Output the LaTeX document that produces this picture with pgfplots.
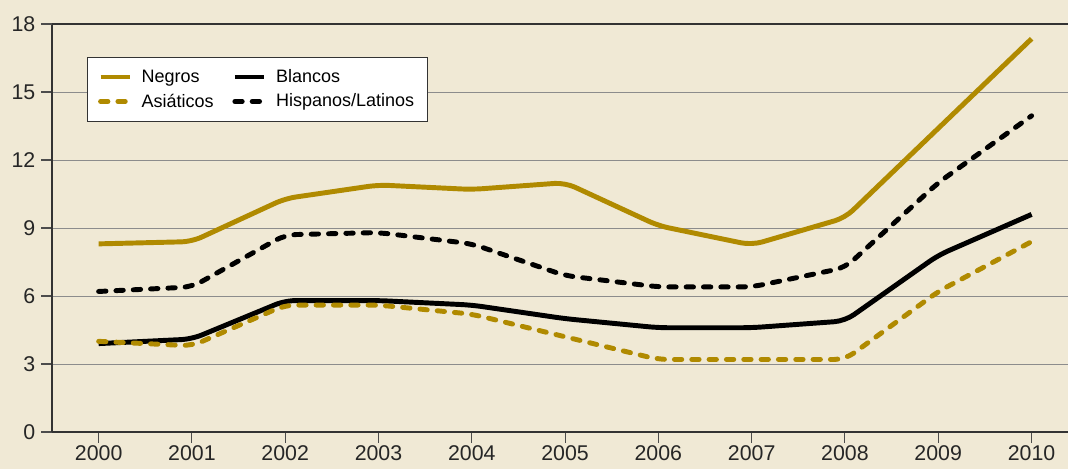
\documentclass[border=0pt]{standalone}
\usepackage{fontspec}
\setmainfont{Liberation Sans}
\usepackage{pgfplots}
\pgfplotsset{compat=1.18}
\definecolor{bg}{HTML}{F0E9D5}
\definecolor{gold}{HTML}{B08A00}
\begin{document}
\begin{tikzpicture}
\fill[bg] (0,0) rectangle (801pt,351.75pt);
\useasboundingbox (0,0) rectangle (801pt,351.75pt);
\begin{axis}[
  at={(39pt,27.75pt)}, anchor=south west,
  scale only axis, width=762pt, height=306pt,
  xmin=1999.5, xmax=2010.39, ymin=0, ymax=18,
  axis lines*=left,
  axis line style={draw=black!80, line width=1pt},
  xtick={2000,...,2010}, ytick={0,3,...,15},
  extra y ticks={18},
  extra y tick style={grid style={draw=black!80, line width=1pt}},
  ymajorgrids,
  grid style={draw=black!45, line width=0.7pt},
  tick align=outside, major tick length=8pt,
  tick style={draw=black!70, line width=0.8pt},
  /pgf/number format/assume math mode=true,
  xticklabel style={/pgf/number format/1000 sep={}, yshift=1pt},
  yticklabel style={xshift=-1pt},
  ticklabel style={font=\fontsize{16}{18}\selectfont, text=black!85},
  legend columns=2,
  legend cell align=left,
  legend style={at={(0.0345,0.919)}, anchor=north west, draw=black!80, line width=0.6pt, fill=white,
    font=\fontsize{13.5}{16}\selectfont,
    /tikz/every even column/.append style={column sep=12pt},
    /tikz/every odd column/.append style={column sep=5pt},
    inner xsep=8pt, inner ysep=7pt, row sep=3pt},
  legend image code/.code={\draw[#1] (0pt,0pt) -- (22pt,0pt);},
  every axis plot/.append style={line width=3.7pt, line join=round, rounded corners=8pt},
]
\addplot[gold, line cap=butt] coordinates {(2000,8.3)(2001,8.4)(2002,10.3)(2003,10.9)(2004,10.7)(2005,11.0)(2006,9.1)(2007,8.25)(2008,9.45)(2009,13.4)(2010,17.35)};
\addlegendentry{Negros}
\addplot[black, line cap=butt] coordinates {(2000,3.9)(2001,4.1)(2002,5.8)(2003,5.8)(2004,5.6)(2005,5.0)(2006,4.6)(2007,4.6)(2008,4.9)(2009,7.8)(2010,9.6)};
\addlegendentry{Blancos}
\addplot[gold, line cap=round, dash pattern=on 5.5pt off 7.5pt] coordinates {(2000,4.0)(2001,3.8)(2002,5.6)(2003,5.6)(2004,5.2)(2005,4.2)(2006,3.2)(2007,3.2)(2008,3.2)(2009,6.2)(2010,8.4)};
\addlegendentry{Asiáticos}
\addplot[black, line cap=round, dash pattern=on 5.5pt off 7.5pt] coordinates {(2000,6.2)(2001,6.4)(2002,8.7)(2003,8.8)(2004,8.3)(2005,6.9)(2006,6.4)(2007,6.4)(2008,7.25)(2009,11.0)(2010,13.95)};
\addlegendentry{Hispanos/Latinos}
\end{axis}
\end{tikzpicture}
\end{document}
